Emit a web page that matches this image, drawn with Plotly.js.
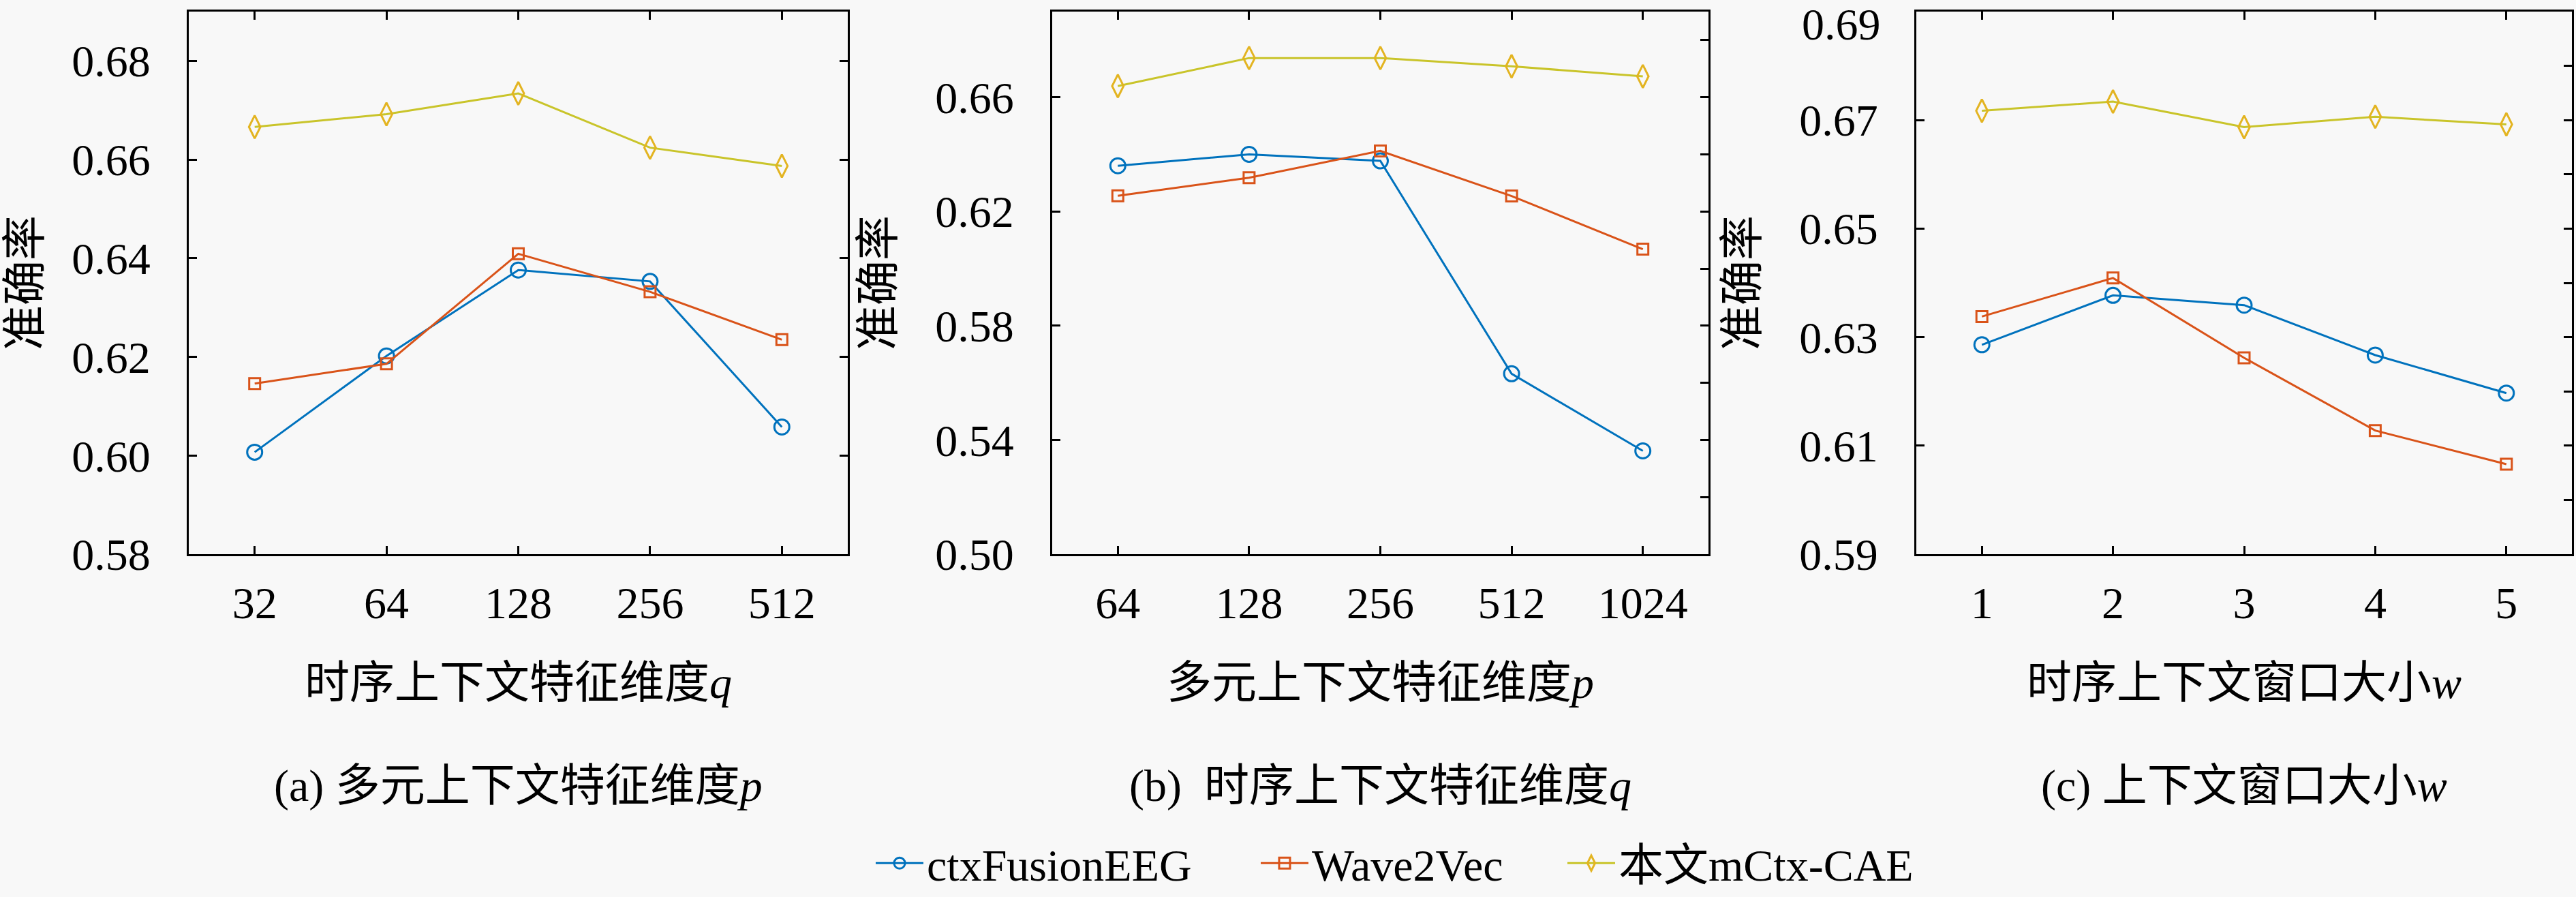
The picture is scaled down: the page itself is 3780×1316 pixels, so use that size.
<!DOCTYPE html>
<html>
<head>
<meta charset="utf-8">
<script src="https://cdn.plot.ly/plotly-3.0.1.min.js"></script>
<style>
  html, body { margin: 0; padding: 0; background: #f8f8f8; }
  #chart { width: 3780px; height: 1316px; }
</style>
</head>
<body>
<div id="chart"></div>
<script>
// accuracy for each baseline and our model
const seriesNames = ["ctxFusionEEG", "Wave2Vec", "本文mCtx-CAE"];

// (a) varying q
const catsA = ["32", "64", "128", "256", "512"];
const ctxA = [0.6007, 0.6202, 0.6376, 0.6353, 0.6058];
const w2vA = [0.6146, 0.6186, 0.6409, 0.6332, 0.6235];
const oursA = [0.6666, 0.6692, 0.6734, 0.6624, 0.6587];
const yTicksA = [0.58, 0.60, 0.62, 0.64, 0.66, 0.68];

// (b) varying p
const catsB = ["64", "128", "256", "512", "1024"];
const ctxB = [0.6360, 0.6400, 0.6377, 0.5632, 0.5362];
const w2vB = [0.6255, 0.6318, 0.6412, 0.6254, 0.6068];
const oursB = [0.6639, 0.6737, 0.6737, 0.6708, 0.6673];
const yTicksB = [0.50, 0.54, 0.58, 0.62, 0.66];

// (c) varying w
const catsC = ["1", "2", "3", "4", "5"];
const ctxC = [0.6286, 0.6377, 0.6359, 0.6267, 0.6197];
const w2vC = [0.6338, 0.6409, 0.6262, 0.6128, 0.6066];
const oursC = [0.6717, 0.6734, 0.6687, 0.6706, 0.6692];
const yTicksC = [0.59, 0.61, 0.63, 0.65, 0.67, 0.69];

const xTitles = ["时序上下文特征维度<i>q</i>", "多元上下文特征维度<i>p</i>", "时序上下文窗口大小<i>w</i>"];
const captions = ["(a) 多元上下文特征维度<i>p</i>", "(b)\u00a0 时序上下文特征维度<i>q</i>", "(c) 上下文窗口大小<i>w</i>"];
const yTitle = "准确率";

const lineColors = ["#0072BD", "#D95319", "#C9C42A"];
const markerColors = ["#0072BD", "#D95319", "#E3B421"];
const symbols = ["circle-open", "square-open", "diamond-tall-open"];
const markerSizes = [22, 16, 24];
const legendWidths = [480, 365, 470];

const FONT = "Liberation Serif, Noto Sans CJK SC, serif";
const BG = "#f8f8f8";
const W = 3780, H = 1316;

const panels = [
    {cats: catsA, vals: [ctxA, w2vA, oursA], yticks: yTicksA, yrange: [0.58, 0.69], yminor: 0.02, left: 277, right: 1244},
    {cats: catsB, vals: [ctxB, w2vB, oursB], yticks: yTicksB, yrange: [0.50, 0.69], yminor: 0.02, left: 1544, right: 2507},
    {cats: catsC, vals: [ctxC, w2vC, oursC], yticks: yTicksC, yrange: [0.59, 0.69], yminor: 0.01, left: 2812, right: 3774}
];

const plotTop = 17, plotBottom = 822;

const traces = [];
const layout = {
    width: W,
    height: H,
    margin: {l: 0, r: 0, t: 0, b: 0},
    paper_bgcolor: BG,
    plot_bgcolor: BG,
    font: {family: FONT, size: 66, color: "#000"},
    showlegend: true,
    legend: {
        orientation: "h",
        x: 1280 / W,
        xanchor: "left",
        y: 1 - 1280 / H,
        yanchor: "middle",
        bgcolor: "rgba(0,0,0,0)",
        font: {family: FONT, size: 66},
        itemwidth: 70,
        tracegroupgap: 0
    },
    annotations: []
};

panels.forEach((p, i) => {
    const n = i + 1;
    const xName = n === 1 ? "x" : "x" + n;
    const yName = n === 1 ? "y" : "y" + n;
    const tickName = "y" + (n + 3);

    for (let s = 0; s < 3; s++) {
        traces.push({
            x: p.cats,
            y: p.vals[s],
            xaxis: xName,
            yaxis: yName,
            type: "scatter",
            mode: "lines+markers",
            name: seriesNames[s],
            legendgroup: seriesNames[s],
            legendwidth: legendWidths[s],
            showlegend: i === 0,
            line: {color: lineColors[s], width: 3},
            marker: {
                symbol: symbols[s],
                size: markerSizes[s],
                color: markerColors[s],
                line: {color: markerColors[s], width: 3}
            },
            hoverinfo: "x+y"
        });
    }
    // empty trace so the right-hand tick axis gets drawn
    traces.push({x: [], y: [], xaxis: xName, yaxis: tickName, type: "scatter", showlegend: false, hoverinfo: "skip"});

    // a label sitting right on the top edge would be clipped, so it is
    // written a little lower as an annotation, as in the original figure
    const topTick = p.yticks[p.yticks.length - 1];
    const onTop = topTick >= p.yrange[1] - 1e-9;
    const labelled = onTop ? p.yticks.slice(0, -1) : p.yticks;

    const dom = [p.left / W, p.right / W];
    const ydom = [1 - plotBottom / H, 1 - plotTop / H];

    layout["xaxis" + (n === 1 ? "" : n)] = {
        domain: dom,
        anchor: yName,
        type: "category",
        range: [-0.5, 4.5],
        showline: true,
        linecolor: "#000",
        linewidth: 3,
        mirror: "ticks",
        ticks: "inside",
        ticklen: 12,
        tickwidth: 3,
        tickcolor: "#000",
        showgrid: false,
        zeroline: false,
        ticklabelstandoff: 12,
        tickfont: {family: FONT, size: 66},
        title: {text: xTitles[i], standoff: 58, font: {family: FONT, size: 66}}
    };
    layout["yaxis" + (n === 1 ? "" : n)] = {
        domain: ydom,
        anchor: xName,
        range: p.yrange,
        tickvals: labelled,
        tickformat: ".2f",
        showline: true,
        linecolor: "#000",
        linewidth: 3,
        mirror: true,
        ticks: "inside",
        ticklen: 12,
        tickwidth: 3,
        tickcolor: "#000",
        showgrid: false,
        zeroline: false,
        ticklabelstandoff: 40,
        tickfont: {family: FONT, size: 66},
        title: {text: yTitle, standoff: 40, font: {family: FONT, size: 66}}
    };
    layout["yaxis" + (n + 3)] = {
        overlaying: yName,
        anchor: xName,
        side: "right",
        range: p.yrange,
        tick0: p.yrange[0],
        dtick: p.yminor,
        ticks: "inside",
        ticklen: 12,
        tickwidth: 3,
        tickcolor: "#000",
        showticklabels: false,
        showline: false,
        showgrid: false,
        zeroline: false
    };

    if (onTop) {
        layout.annotations.push({
            text: topTick.toFixed(2),
            xref: "paper",
            yref: "paper",
            x: (p.left - 50) / W,
            y: 1 - 36 / H,
            xanchor: "right",
            yanchor: "middle",
            showarrow: false,
            font: {family: FONT, size: 66, color: "#000"}
        });
    }

    layout.annotations.push({
        text: captions[i],
        xref: "paper",
        yref: "paper",
        x: (p.left + p.right) / 2 / W,
        y: 1 - 1165 / H,
        xanchor: "center",
        yanchor: "middle",
        showarrow: false,
        font: {family: FONT, size: 66, color: "#000"}
    });
});

Plotly.newPlot("chart", traces, layout, {displayModeBar: false, staticPlot: true});
</script>
</body>
</html>
